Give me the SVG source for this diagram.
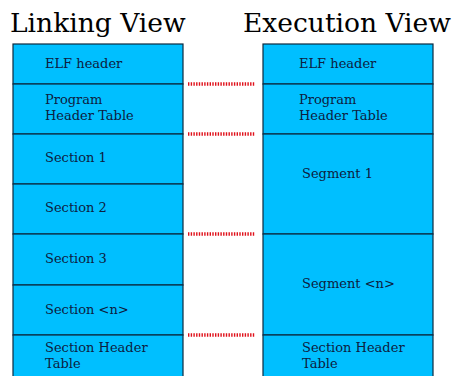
<svg xmlns="http://www.w3.org/2000/svg" width="454" height="376" viewBox="0 0 454 376">
<style>
.cell{fill:#00bfff;stroke:#0d2a40;stroke-width:1.2}
.t{font-family:"DejaVu Serif",serif;font-size:13px;fill:#0d2040}
.h{font-family:"DejaVu Serif",serif;font-size:26.5px;fill:#000}
.dot{stroke:#e0101a;stroke-width:3.5;stroke-dasharray:1.4 1.3}
</style>
<rect width="454" height="376" fill="#fff"/>
<text class="h" x="10" y="32">Linking View</text>
<text class="h" x="243" y="32">Execution View</text>
<g id="link-elf"><rect class="cell" x="13" y="44" width="170" height="40"/><text class="t" x="45" y="68">ELF header</text></g>
<g id="link-pht"><rect class="cell" x="13" y="84" width="170" height="50"/><text class="t" x="45" y="104">Program</text><text class="t" x="45" y="120">Header Table</text></g>
<g id="link-s1"><rect class="cell" x="13" y="134" width="170" height="50"/><text class="t" x="45" y="162">Section 1</text></g>
<g id="link-s2"><rect class="cell" x="13" y="184" width="170" height="50"/><text class="t" x="45" y="212">Section 2</text></g>
<g id="link-s3"><rect class="cell" x="13" y="234" width="170" height="51"/><text class="t" x="45" y="263">Section 3</text></g>
<g id="link-sn"><rect class="cell" x="13" y="285" width="170" height="50"/><text class="t" x="45" y="314">Section &lt;n&gt;</text></g>
<g id="link-sht"><rect class="cell" x="13" y="335" width="170" height="50"/><text class="t" x="45" y="352">Section Header</text><text class="t" x="45" y="368">Table</text></g>
<g id="exec-elf"><rect class="cell" x="263" y="44" width="170" height="40"/><text class="t" x="299" y="68">ELF header</text></g>
<g id="exec-pht"><rect class="cell" x="263" y="84" width="170" height="50"/><text class="t" x="299" y="104">Program</text><text class="t" x="299" y="120">Header Table</text></g>
<g id="exec-seg1"><rect class="cell" x="263" y="134" width="170" height="100"/><text class="t" x="302" y="178">Segment 1</text></g>
<g id="exec-segn"><rect class="cell" x="263" y="234" width="170" height="101"/><text class="t" x="302" y="288">Segment &lt;n&gt;</text></g>
<g id="exec-sht"><rect class="cell" x="263" y="335" width="170" height="50"/><text class="t" x="302" y="352">Section Header</text><text class="t" x="302" y="368">Table</text></g>
<g id="connectors">
<line class="dot" x1="188" y1="84" x2="255" y2="84"/>
<line class="dot" x1="188" y1="134" x2="255" y2="134"/>
<line class="dot" x1="188" y1="234" x2="255" y2="234"/>
<line class="dot" x1="188" y1="335" x2="255" y2="335"/>
</g>
</svg>
